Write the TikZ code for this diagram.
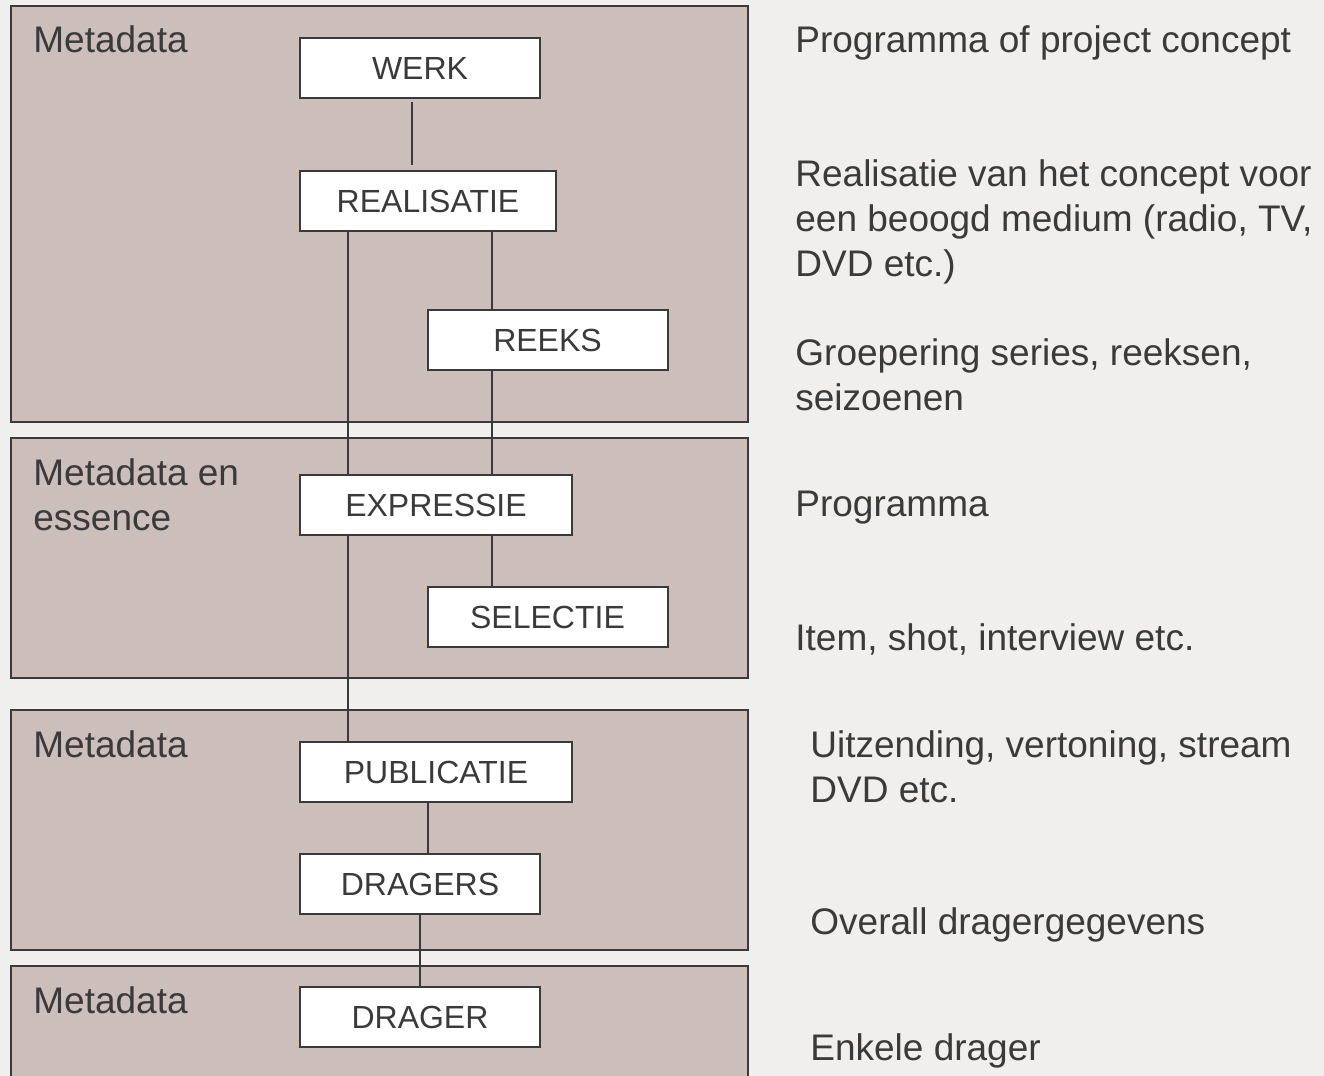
\documentclass[tikz,border=0pt]{standalone}
\usepackage{fontspec}
\setmainfont{Liberation Sans}
\definecolor{bg}{HTML}{F0EFED}
\definecolor{panel}{HTML}{CBBEBB}
\definecolor{ink}{HTML}{3A3A3A}
\begin{document}
\begin{tikzpicture}[x=0.5pt,y=-0.5pt,
  panelbox/.style={draw=ink,fill=panel,line width=1pt},
  entity/.style={draw=ink,fill=white,line width=1pt,inner sep=0pt,minimum height=30pt,
    text height=11.5pt,text depth=0pt,font=\fontsize{16}{19}\selectfont,text=ink},
  lbl/.style={anchor=base west,inner sep=0pt,font=\fontsize{18.5}{22.5}\selectfont,text=ink},
  link/.style={draw=ink,line width=1pt}]
\useasboundingbox[fill=bg] (0,0) rectangle (1324,1076);
% panels
\draw[panelbox] (11,6) rectangle (748,422);
\draw[panelbox] (11,438) rectangle (748,678);
\draw[panelbox] (11,710) rectangle (748,950);
\draw[panelbox] (11,966) rectangle (748,1095);
% panel labels
\node[lbl] (p1) at (33,53) {Metadata};
\node[lbl] (p2a) at (33,485) {Metadata en};
\node[lbl] (p2b) at (33,530) {essence};
\node[lbl] (p3) at (33,757) {Metadata};
\node[lbl] (p4) at (33,1013) {Metadata};
% entities
\node[entity,minimum width=120pt] (werk) at (420,68) {WERK};
\node[entity,minimum width=128pt] (real) at (428,201) {REALISATIE};
\node[entity,minimum width=120pt] (reeks) at (547.5,340) {REEKS};
\node[entity,minimum width=136pt] (expr) at (436,505) {EXPRESSIE};
\node[entity,minimum width=120pt] (sel) at (547.5,617) {SELECTIE};
\node[entity,minimum width=136pt] (publ) at (436,772) {PUBLICATIE};
\node[entity,minimum width=120pt] (drs) at (420,884) {DRAGERS};
\node[entity,minimum width=120pt] (dr) at (420,1017) {DRAGER};
% x positions of connectors
\coordinate (xa) at (412,0);
\coordinate (xb) at (348,0);
\coordinate (xc) at (492,0);
\coordinate (xd) at (428,0);
\coordinate (xe) at (420,0);
% connectors
\draw[link,shorten <=1.5pt,shorten >=2.5pt] (werk.south -| xa) -- (real.north -| xa);
\draw[link] (real.south -| xb) -- (expr.north -| xb);
\draw[link] (real.south -| xc) -- (reeks.north -| xc);
\draw[link] (reeks.south -| xc) -- (expr.north -| xc);
\draw[link] (expr.south -| xc) -- (sel.north -| xc);
\draw[link] (expr.south -| xb) -- (publ.north -| xb);
\draw[link] (publ.south -| xd) -- (drs.north -| xd);
\draw[link] (drs.south -| xe) -- (dr.north -| xe);
% descriptions
\node[lbl] (d1) at (795,53) {Programma of project concept};
\node[lbl] (d2a) at (795,186) {Realisatie van het concept voor};
\node[lbl] (d2b) at (795,231) {een beoogd medium (radio, TV,};
\node[lbl] (d2c) at (795,276) {DVD etc.)};
\node[lbl] (d3a) at (795,365) {Groepering series, reeksen,};
\node[lbl] (d3b) at (795,410) {seizoenen};
\node[lbl] (d4) at (795,516) {Programma};
\node[lbl] (d5) at (795,650) {Item, shot, interview etc.};
\node[lbl] (d6a) at (810,757) {Uitzending, vertoning, stream};
\node[lbl] (d6b) at (810,802) {DVD etc.};
\node[lbl] (d7) at (810,934) {Overall dragergegevens};
\node[lbl] (d8) at (810,1060) {Enkele drager};
\end{tikzpicture}
\end{document}
